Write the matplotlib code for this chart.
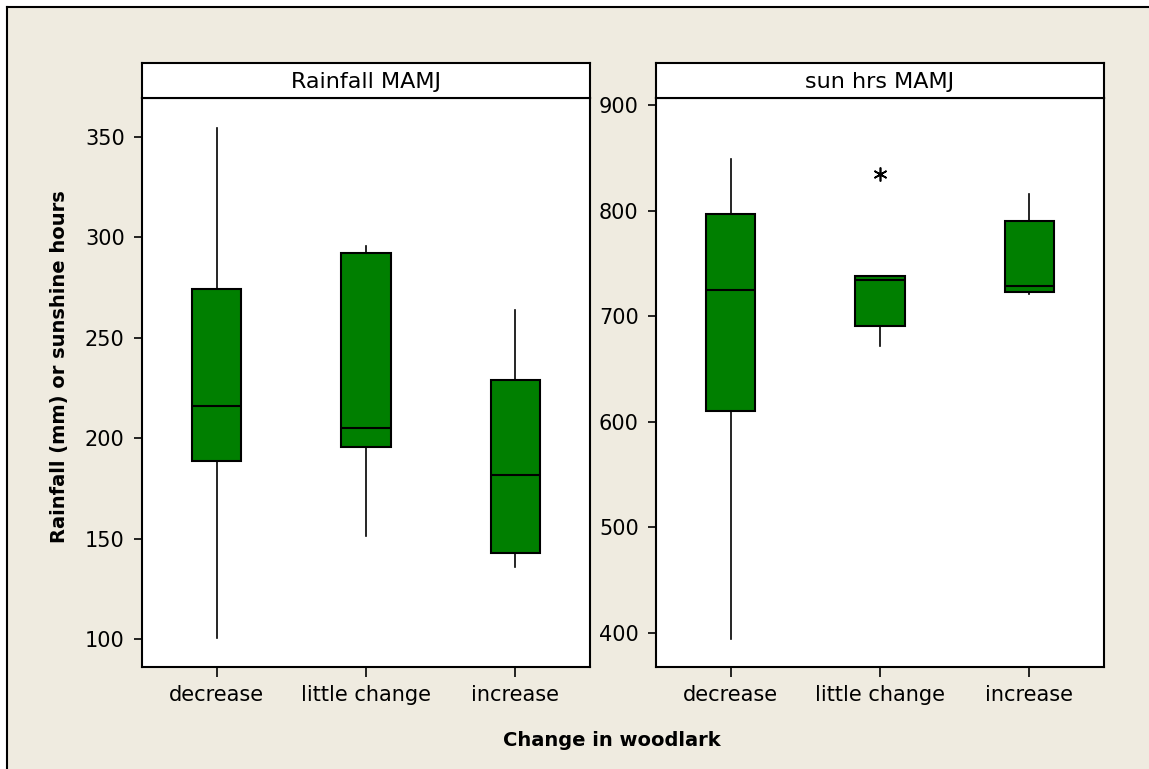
import matplotlib
matplotlib.use("Agg")
import matplotlib.pyplot as plt
from matplotlib.patches import Rectangle
from matplotlib.lines import Line2D

groups = ["decrease", "little change", "increase"]

# Rainfall MAMJ: low whisker, Q1, median, Q3, high whisker
rain_lo = [100.8, 151.3, 136.2]
rain_q1 = [188.9, 195.7, 143.0]
rain_med = [215.9, 205.0, 181.9]
rain_q3 = [274.1, 292.0, 229.0]
rain_hi = [354.5, 295.8, 263.6]
rain_out = [[], [], []]

# sun hrs MAMJ
sun_lo = [393.7, 672.0, 721.0]
sun_q1 = [610.1, 690.5, 722.7]
sun_med = [724.3, 734.0, 728.4]
sun_q3 = [796.9, 737.9, 789.7]
sun_hi = [848.5, 738.0, 815.7]
sun_out = [[], [834.8], []]

green = "#007F00"
beige = "#EFEBE0"

W, H = 1149, 769
fig = plt.figure(figsize=(W / 100, H / 100), dpi=100, facecolor="white")

# outer frame
fig.add_artist(Rectangle((7 / W, 0), 1, 1 - 7 / H, transform=fig.transFigure,
                         facecolor=beige, edgecolor="none", zorder=-10))
fig.add_artist(Line2D([7 / W, 7 / W], [0, 1 - 7 / H], transform=fig.transFigure,
                      color="black", lw=1.5))
fig.add_artist(Line2D([7 / W, 1], [1 - 7 / H, 1 - 7 / H], transform=fig.transFigure,
                      color="black", lw=1.5))


def make_stats(lo, q1, med, q3, hi, out):
    res = []
    for i in range(len(lo)):
        res.append(dict(whislo=lo[i], q1=q1[i], med=med[i], q3=q3[i],
                        whishi=hi[i], fliers=out[i]))
    return res


panels = [
    ("Rainfall MAMJ", 142, make_stats(rain_lo, rain_q1, rain_med, rain_q3, rain_hi, rain_out),
     (86.2, 369.3), [100, 150, 200, 250, 300, 350]),
    ("sun hrs MAMJ", 656, make_stats(sun_lo, sun_q1, sun_med, sun_q3, sun_hi, sun_out),
     (367.5, 906.6), [400, 500, 600, 700, 800, 900]),
]

top_px, bot_px, head_px = 98, 667, 63
pw = 448
for title, x0, stats, ylim, yticks in panels:
    ax = fig.add_axes([x0 / W, 1 - bot_px / H, pw / W, (bot_px - top_px) / H])
    ax.bxp(stats, positions=[1, 2, 3], widths=0.33, showcaps=False,
           patch_artist=True,
           boxprops=dict(facecolor=green, edgecolor="black", linewidth=1.5),
           medianprops=dict(color="black", linewidth=1.5),
           whiskerprops=dict(color="black", linewidth=1.2),
           flierprops=dict(marker=(6, 2, 0), markersize=10, markeredgecolor="black",
                           markeredgewidth=1.2, linestyle="none"))
    ax.set_xlim(0.5, 3.5)
    ax.set_ylim(*ylim)
    ax.set_yticks(yticks)
    ax.set_xticks([1, 2, 3])
    ax.set_xticklabels(groups)
    ax.tick_params(axis="both", direction="out", length=6, width=1.2,
                   labelsize=15, pad=6.5)
    ax.tick_params(axis="x", length=7, pad=6)
    for s in ax.spines.values():
        s.set_linewidth(1.5)
    ax.set_facecolor("white")

    hx = fig.add_axes([x0 / W, 1 - top_px / H, pw / W, (top_px - head_px) / H])
    hx.set_xticks([])
    hx.set_yticks([])
    for s in hx.spines.values():
        s.set_linewidth(1.5)
    hx.text(0.5, 0.47, title, ha="center", va="center", fontsize=16,
            transform=hx.transAxes)

fig.text(60 / W, 1 - 367 / H, "Rainfall (mm) or sunshine hours", rotation=90,
         ha="center", va="center", fontsize=14, fontweight="bold")
fig.text(612 / W, 1 - 741 / H, "Change in woodlark", ha="center", va="center",
         fontsize=14, fontweight="bold")

fig.savefig("out.png", dpi=100, facecolor=fig.get_facecolor())
